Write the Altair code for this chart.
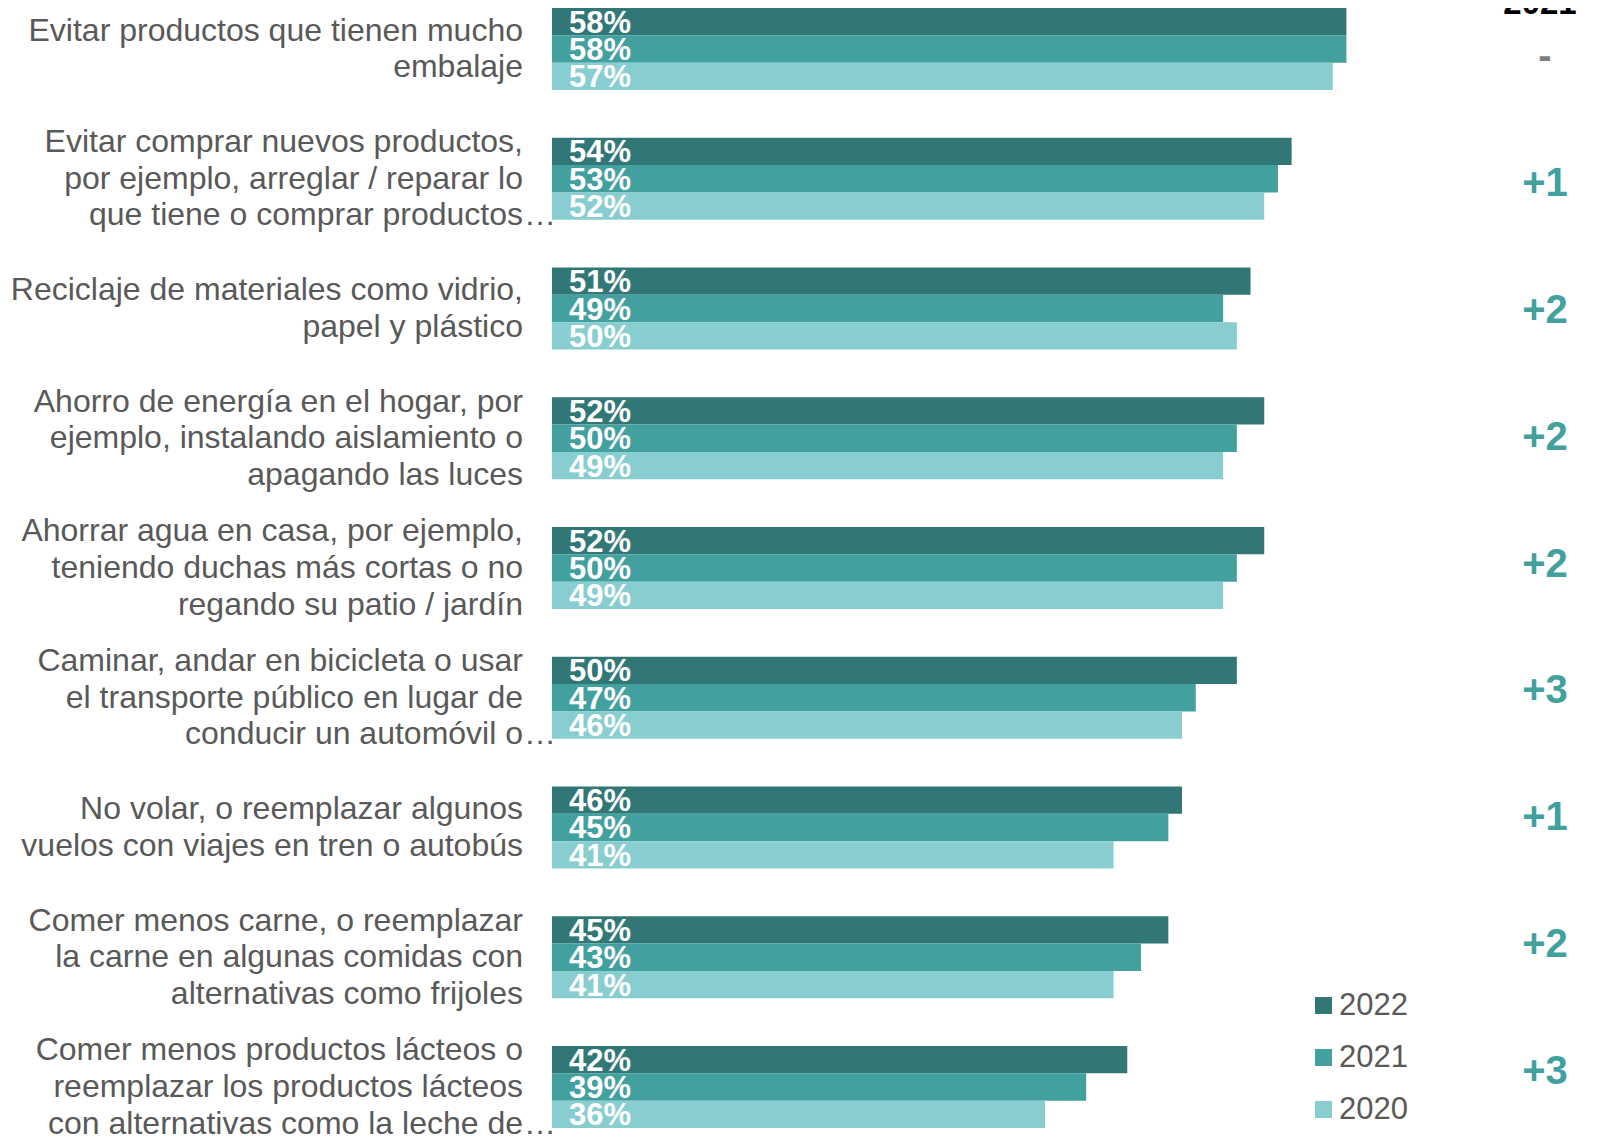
import altair as alt
import pandas as pd

categories = [
    "Evitar productos que tienen mucho\nembalaje",
    "Evitar comprar nuevos productos,\npor ejemplo, arreglar / reparar lo\nque tiene o comprar productos…",
    "Reciclaje de materiales como vidrio,\npapel y plástico",
    "Ahorro de energía en el hogar, por\nejemplo, instalando aislamiento o\napagando las luces",
    "Ahorrar agua en casa, por ejemplo,\nteniendo duchas más cortas o no\nregando su patio / jardín",
    "Caminar, andar en bicicleta o usar\nel transporte público en lugar de\nconducir un automóvil o…",
    "No volar, o reemplazar algunos\nvuelos con viajes en tren o autobús",
    "Comer menos carne, o reemplazar\nla carne en algunas comidas con\nalternativas como frijoles",
    "Comer menos productos lácteos o\nreemplazar los productos lácteos\ncon alternativas como la leche de…",
]
years = ["2022", "2021", "2020"]
v2022 = [58, 54, 51, 52, 52, 50, 46, 45, 42]
v2021 = [58, 53, 49, 50, 50, 47, 45, 43, 39]
v2020 = [57, 52, 50, 49, 49, 46, 41, 41, 36]
change_header = "2021"
change = ["-", "+1", "+2", "+2", "+2", "+3", "+1", "+2", "+3"]
colors = ["#317775", "#42A09F", "#88CED0"]

rows = []
for i, c in enumerate(categories):
    for y, vals in zip(years, [v2022, v2021, v2020]):
        rows.append({"cat": c, "year": y, "value": vals[i], "label": f"{vals[i]}%"})
df = pd.DataFrame(rows)

# one row per label line; 'slot' = half-line position of the line inside the block
slots = ["0", "1", "2", "3", "4"]
line_rows = []
tail_rows = []
for c in categories:
    lines = c.split("\n")
    n = len(lines)
    for k, ln in enumerate(lines):
        slot = str(int(2 * k - (n - 1) + 2))
        if ln.endswith("…"):
            line_rows.append({"cat": c, "slot": slot, "txt": ln[:-1]})
            tail_rows.append({"cat": c, "slot": slot, "txt": "…"})
        else:
            line_rows.append({"cat": c, "slot": slot, "txt": ln})
line_df = pd.DataFrame(line_rows)
tail_df = pd.DataFrame(tail_rows)
chg_df = pd.DataFrame({"cat": categories, "change": change})

FONT = "Liberation Sans"

y_band = alt.Y("cat:N", sort=categories, axis=None,
               scale=alt.Scale(type="band", domain=categories,
                               paddingInner=0.368, paddingOuter=0))
y_off = alt.YOffset("year:N", sort=years,
                    scale=alt.Scale(type="band", domain=years, paddingInner=0, paddingOuter=0))
y_line = alt.YOffset("slot:N", sort=slots,
                     scale=alt.Scale(type="band", domain=slots, paddingInner=0.531, paddingOuter=0))

bars = alt.Chart(df).mark_bar().encode(
    x=alt.X("value:Q", scale=alt.Scale(domain=[0, 75.2]), axis=None),
    y=y_band,
    yOffset=y_off,
    color=alt.Color(
        "year:N",
        scale=alt.Scale(domain=years, range=colors),
        legend=alt.Legend(
            title=None, orient="none", legendX=756, legendY=982,
            symbolType="square", symbolSize=289, symbolStrokeWidth=0,
            labelFontSize=31, labelFont=FONT, labelColor="#595959",
            labelOffset=0, rowPadding=20,
        ),
    ),
)

pct = alt.Chart(df).mark_text(
    align="left", baseline="middle", dy=2, font=FONT, fontWeight="bold",
    fontSize=31, color="white",
).encode(x=alt.value(17), y=y_band, yOffset=y_off, text="label:N")

cat_labels = alt.Chart(line_df).mark_text(
    align="right", baseline="middle", font=FONT, fontSize=32, color="#595959",
).encode(x=alt.value(-29), y=y_band, yOffset=y_line, text="txt:N")

cat_tail = alt.Chart(tail_df).mark_text(
    align="left", baseline="middle", font=FONT, fontSize=32, color="#595959",
).encode(x=alt.value(-28), y=y_band, yOffset=y_line, text="txt:N")

y_point = alt.Y("cat:N", sort=categories, axis=None,
                scale=alt.Scale(type="point", domain=categories, range=[47, 1062], padding=0))

changes = alt.Chart(chg_df).mark_text(
    align="center", baseline="middle", dy=2, font=FONT, fontWeight="bold",
    fontSize=40,
).encode(
    x=alt.value(993),
    y=y_point,
    text="change:N",
    color=alt.condition(alt.datum.change == "-", alt.value("#7F7F7F"), alt.value("#42A09F")),
)

header = alt.Chart(pd.DataFrame({"h": [change_header]})).mark_text(
    align="center", baseline="alphabetic", font=FONT, fontWeight="bold",
    fontSize=33, color="black",
).encode(x=alt.value(988), y=alt.value(6), text="h:N")

chart = alt.layer(bars, pct, cat_labels, cat_tail, changes, header).resolve_scale(
    y="independent", yOffset="independent"
).properties(
    width=1030, height=1120,
    autosize=alt.AutoSizeParams(type="none"),
    padding={"left": 544, "top": 0, "right": 0, "bottom": 9},
).configure_view(stroke=None)

chart.save("out.html", embed_options={"renderer": "svg", "actions": False})
